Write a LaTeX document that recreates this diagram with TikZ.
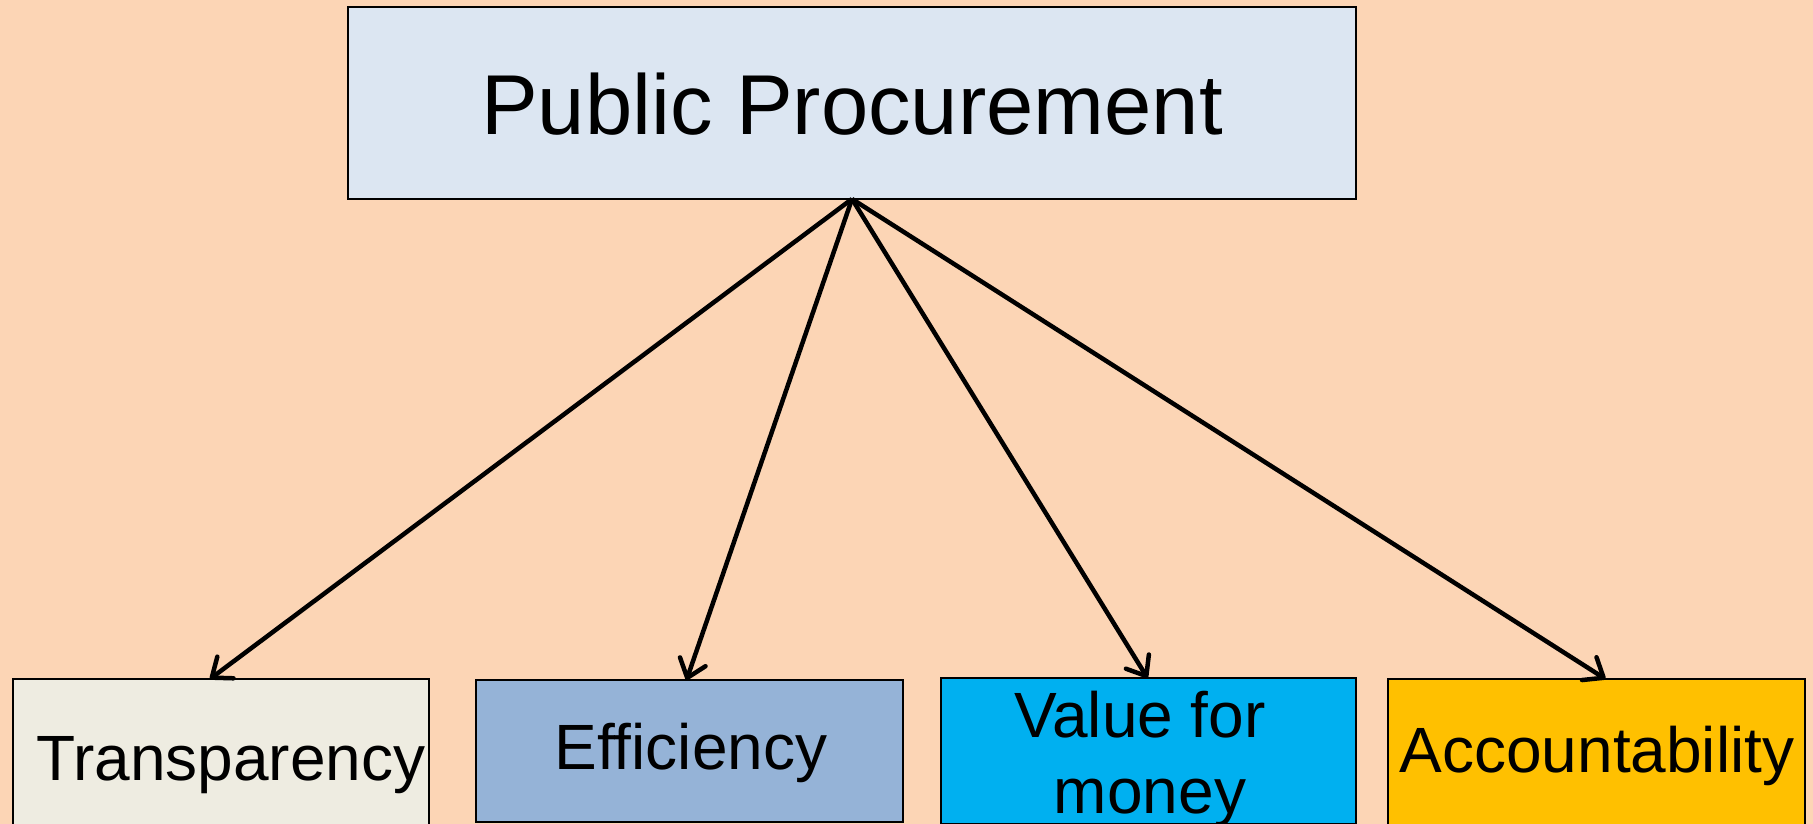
\documentclass[tikz,border=0pt]{standalone}
\usepackage{fontspec}
\setmainfont{Liberation Sans}
\usetikzlibrary{arrows.meta}
\definecolor{bgpeach}{HTML}{FCD5B5}
\definecolor{topfill}{HTML}{DCE6F2}
\definecolor{transfill}{HTML}{EEECE1}
\definecolor{efffill}{HTML}{95B3D7}
\definecolor{valfill}{HTML}{00B0F0}
\definecolor{accfill}{HTML}{FFC000}
\tikzset{
  boxnode/.style={draw=black, line width=2.5pt, inner sep=0pt, outer sep=0pt},
  bigtext/.style={inner sep=0pt, anchor=base, font=\fontsize{85}{100}\selectfont},
  smalltext/.style={inner sep=0pt, anchor=base, font=\fontsize{64}{76}\selectfont},
  conn/.style={line width=4.5pt, -{Straight Barb[length=17pt,width=27pt,line width=4.5pt,round]}}
}
\begin{document}
\begin{tikzpicture}[x=1pt,y=-1pt]
\fill[bgpeach] (0,0) rectangle (1813,824);
\useasboundingbox (0,0) rectangle (1813,824);
\begin{scope}
\clip (0,0) rectangle (1813,824);
\node[boxnode, fill=topfill, minimum width=1008pt, minimum height=192pt] (top) at (852,103) {};
\node[boxnode, fill=transfill, minimum width=416pt, minimum height=150pt] (t) at (221,754) {};
\node[boxnode, fill=efffill, minimum width=427pt, minimum height=142pt] (e) at (689.5,751) {};
\node[boxnode, fill=valfill, minimum width=415pt, minimum height=146pt] (v) at (1148.5,751) {};
\node[boxnode, fill=accfill, minimum width=417pt, minimum height=150pt] (a) at (1596.5,754) {};
\end{scope}
\node[bigtext] (toptext) at (852,135) {Public Procurement};
\node[smalltext] (ttext) at (231,780) {Transparency};
\node[smalltext] (etext) at (691,769) {Efficiency};
\node[smalltext] (vtext1) at (1140,737) {Value for};
\node[smalltext] (vtext2) at (1150,813) {money};
\node[smalltext] (atext) at (1597,772) {Accountability};
\coordinate (src) at (852,199);
\draw[conn] (src) -- ([xshift=-11pt]t.north);
\draw[conn] (src) -- ([xshift=-3pt]e.north);
\draw[conn] (src) -- ([xshift=-1pt]v.north);
\draw[conn] (src) -- ([xshift=9pt]a.north);
\end{tikzpicture}
\end{document}
